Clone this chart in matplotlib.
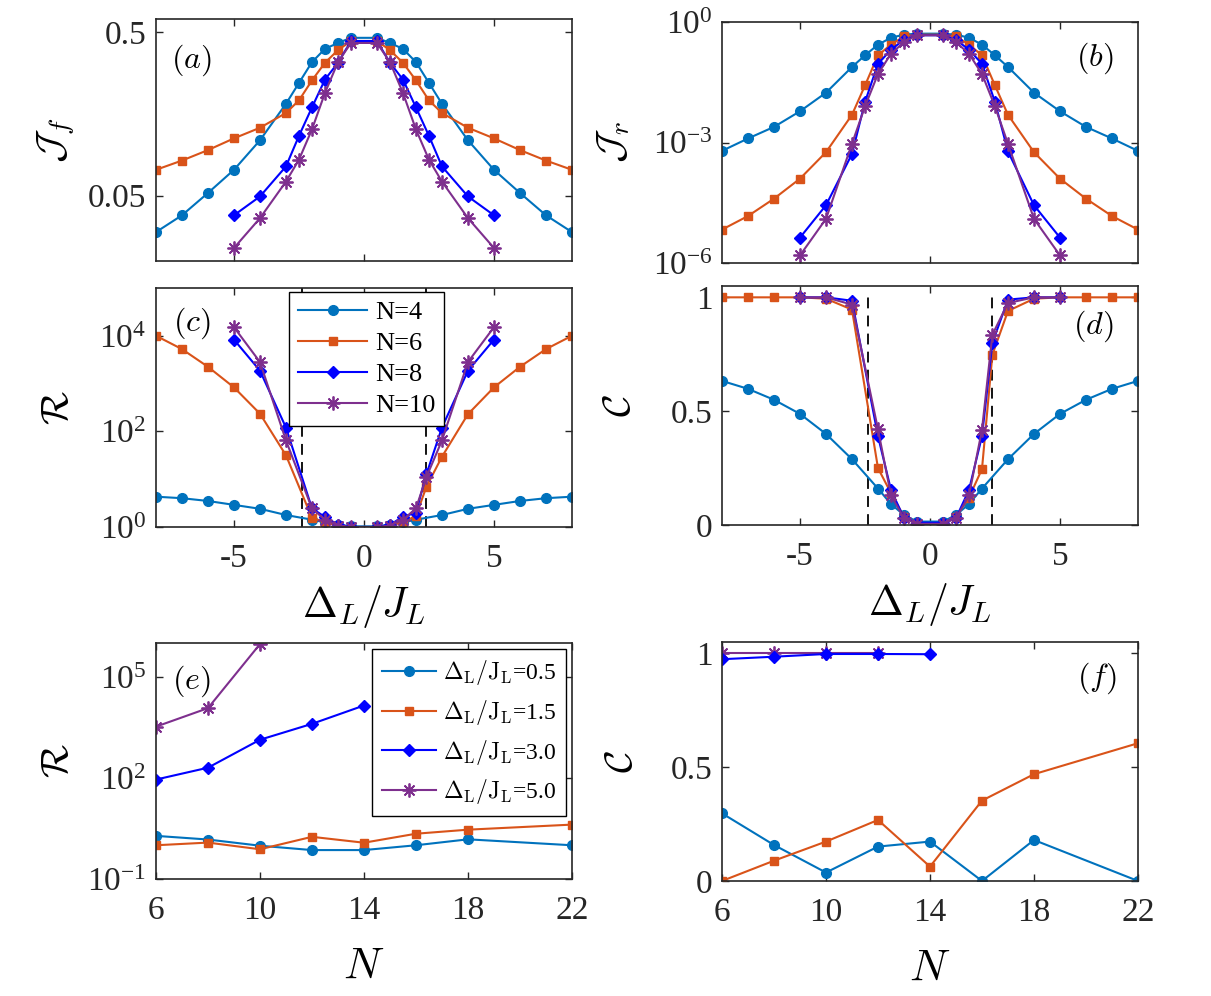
import matplotlib
matplotlib.use('Agg')
import matplotlib.pyplot as plt
from matplotlib.ticker import FuncFormatter, NullLocator, FixedLocator
import numpy as np

plt.rcParams['font.family'] = ['Liberation Serif', 'DejaVu Serif']
plt.rcParams['mathtext.fontset'] = 'cm'
plt.rcParams['axes.unicode_minus'] = False

# ---- data ----
# panels (a),(b)
x_wide = [-8, -7, -6, -5, -4, -3, -2.5, -2, -1.5, -1, -0.5, 0.5, 1, 1.5, 2, 2.5, 3, 4, 5, 6, 7, 8]
x_narrow = [-5, -4, -3, -2.5, -2, -1.5, -1, -0.5, 0.5, 1, 1.5, 2, 2.5, 3, 4, 5]

Jf_N4 = [0.030, 0.038, 0.052, 0.072, 0.109, 0.182, 0.244, 0.327, 0.394, 0.428, 0.46,
         0.46, 0.428, 0.394, 0.327, 0.244, 0.182, 0.109, 0.072, 0.052, 0.038, 0.030]
Jf_N6 = [0.072, 0.082, 0.095, 0.112, 0.130, 0.160, 0.191, 0.253, 0.324, 0.387, 0.44,
         0.44, 0.387, 0.324, 0.253, 0.191, 0.160, 0.130, 0.112, 0.095, 0.082, 0.072]
Jf_N8 = [0.038, 0.0495, 0.0755, 0.116, 0.173, 0.256, 0.324, 0.44,
         0.44, 0.324, 0.256, 0.173, 0.116, 0.0755, 0.0495, 0.038]
Jf_N10 = [0.024, 0.0365, 0.061, 0.083, 0.127, 0.212, 0.327, 0.428,
          0.428, 0.327, 0.212, 0.127, 0.083, 0.061, 0.0365, 0.024]

Jr_N4 = [6.2e-4, 1.26e-3, 2.45e-3, 6.0e-3, 0.0174, 0.076, 0.148, 0.273, 0.407, 0.484, 0.513,
         0.513, 0.484, 0.407, 0.273, 0.148, 0.076, 0.0174, 6.0e-3, 2.45e-3, 1.26e-3, 6.2e-4]
Jr_N6 = [6.8e-6, 1.48e-5, 4.0e-5, 1.26e-4, 5.75e-4, 4.9e-3, 0.0263, 0.148, 0.275, 0.436, 0.484,
         0.484, 0.436, 0.275, 0.148, 0.0263, 4.9e-3, 5.75e-4, 1.26e-4, 4.0e-5, 1.48e-5, 6.8e-6]
Jr_N8 = [4.3e-6, 2.75e-5, 5.2e-4, 0.0102, 0.091, 0.204, 0.363, 0.468,
         0.468, 0.363, 0.204, 0.091, 0.0102, 6.0e-4, 2.75e-5, 4.3e-6]
Jr_N10 = [1.55e-6, 1.26e-5, 9.3e-4, 7.9e-3, 0.051, 0.162, 0.316, 0.468,
          0.468, 0.316, 0.162, 0.051, 7.9e-3, 9.3e-4, 1.26e-5, 1.55e-6]

# panels (c),(d)
xc4 = [-8, -7, -6, -5, -4, -3, -2, -1.5, -1, -0.5, 0.5, 1, 1.5, 2, 3, 4, 5, 6, 7, 8]
xc6 = [-8, -7, -6, -5, -4, -3, -2, -1.5, -1, -0.5, 0.5, 1, 1.5, 2, 2.4, 3, 4, 5, 6, 7, 8]
xc8 = [-5, -4, -3, -2, -1.5, -1, -0.5, 0.5, 1, 1.5, 2, 2.4, 3, 4, 5]

R_N4 = [4.3, 4.0, 3.5, 2.9, 2.4, 1.78, 1.42, 1.25, 1.12, 1.03,
        1.03, 1.12, 1.25, 1.42, 1.78, 2.4, 2.9, 3.5, 4.0, 4.3]
R_N6 = [1e4, 5250, 2240, 832, 234, 31.6, 1.55, 1.26, 1.07, 1.0,
        1.0, 1.07, 1.26, 1.7, 6.9, 29.5, 229, 832, 2240, 5250, 1e4]
R_N8 = [8300, 1860, 120, 2.45, 1.62, 1.12, 1.0, 1.0, 1.12, 1.62, 2.0, 12.6, 120, 1860, 8300]
R_N10 = [15100, 2820, 64.6, 2.45, 1.41, 1.07, 1.0, 1.0, 1.07, 1.41, 2.45, 11.0, 64.6, 2820, 15100]

C_N4 = [0.633, 0.598, 0.55, 0.488, 0.40, 0.289, 0.16, 0.092, 0.044, 0.015,
        0.015, 0.044, 0.092, 0.16, 0.289, 0.40, 0.488, 0.55, 0.598, 0.633]
C_N6 = [1, 1, 1, 1, 0.994, 0.946, 0.25, 0.14, 0.037, 0.0,
        0.0, 0.037, 0.12, 0.246, 0.748, 0.94, 0.994, 1, 1, 1, 1]
C_N8 = [1, 1, 0.985, 0.39, 0.154, 0.03, 0.01, 0.01, 0.03, 0.154, 0.39, 0.8, 0.99, 1, 1]
C_N10 = [1, 1, 0.968, 0.42, 0.13, 0.03, 0.005, 0.005, 0.03, 0.13, 0.418, 0.836, 0.975, 1, 1]

delta_c = 2.4

# panels (e),(f)
N_all = [6, 8, 10, 12, 14, 16, 18, 22]
N_d3 = [6, 8, 10, 12, 14]
N_d5e = [6, 8, 10]
N_d5f = [6, 8, 10, 12]

Re_05 = [1.9, 1.48, 0.97, 0.72, 0.72, 1.0, 1.5, 1.0]
Re_15 = [1.0, 1.2, 0.76, 1.78, 1.19, 2.2, 2.9, 4.1]
Re_30 = [89, 200, 1350, 4000, 14000]
Re_50 = [3300, 11700, 9.3e5]

Cf_05 = [0.297, 0.158, 0.037, 0.151, 0.173, 0.0, 0.18, 0.0]
Cf_15 = [0.0, 0.089, 0.173, 0.268, 0.063, 0.353, 0.469, 0.605]
Cf_30 = [0.974, 0.985, 0.997, 0.997, 0.996]
Cf_50 = [1.0, 1.0, 1.0, 1.0]

# ---- styles ----
c1, c2, c3, c4 = '#0072BD', '#D95319', '#0000FF', '#7E2F8E'
st = [dict(color=c1, marker='o', ms=7),
      dict(color=c2, marker='s', ms=5.5),
      dict(color=c3, marker='D', ms=6),
      dict(color=c4, marker=(8, 2, 0), ms=10, mew=1.3)]
lw = 1.5
tick_fs = 24
lab_fs = 28

fig = plt.figure(figsize=(12.11, 9.96), dpi=100)
L1, L2, W = 0.1288, 0.5962, 0.3435
axa = fig.add_axes([L1, 0.7380, W, 0.2430])
axb = fig.add_axes([L2, 0.7359, W, 0.2420])
axc = fig.add_axes([L1, 0.4709, W, 0.2400])
axd = fig.add_axes([L2, 0.4729, W, 0.2400])
axe = fig.add_axes([L1, 0.1175, W, 0.2369])
axf = fig.add_axes([L2, 0.1155, W, 0.2400])


def logfmt(v, pos):
    return r'$\mathregular{10^{%d}}$' % int(round(np.log10(v)))


for ax in [axa, axb, axc, axd, axe, axf]:
    ax.tick_params(direction='in', top=True, right=True, labelsize=tick_fs,
                   length=5, width=1, colors='#262626')
    ax.tick_params(axis='x', pad=12)
    ax.tick_params(axis='y', pad=7)
    for s in ax.spines.values():
        s.set_linewidth(1.2)
        s.set_color('#262626')

# (a)
axa.plot(x_wide, Jf_N4, lw=lw, **st[0])
axa.plot(x_wide, Jf_N6, lw=lw, **st[1])
axa.plot(x_narrow, Jf_N8, lw=lw, **st[2])
axa.plot(x_narrow, Jf_N10, lw=lw, **st[3])
axa.set_yscale('log')
axa.set_ylim(0.02, 0.6)
axa.yaxis.set_major_locator(FixedLocator([0.05, 0.5]))
axa.yaxis.set_minor_locator(NullLocator())
axa.set_yticklabels(['0.05', '0.5'])

# (b)
axb.plot(x_wide, Jr_N4, lw=lw, **st[0])
axb.plot(x_wide, Jr_N6, lw=lw, **st[1])
axb.plot(x_narrow, Jr_N8, lw=lw, **st[2])
axb.plot(x_narrow, Jr_N10, lw=lw, **st[3])
axb.set_yscale('log')
axb.set_ylim(1e-6, 1)
axb.yaxis.set_major_locator(FixedLocator([1e-6, 1e-3, 1]))
axb.yaxis.set_minor_locator(NullLocator())
axb.yaxis.set_major_formatter(FuncFormatter(logfmt))

# (c)
axc.axvline(-delta_c, color='k', ls=(0, (6, 4)), lw=1.3)
axc.axvline(delta_c, color='k', ls=(0, (6, 4)), lw=1.3)
axc.plot(xc4, R_N4, lw=lw, label='N=4', **st[0])
axc.plot(xc6, R_N6, lw=lw, label='N=6', **st[1])
axc.plot(xc8, R_N8, lw=lw, label='N=8', **st[2])
axc.plot(xc8, R_N10, lw=lw, label='N=10', **st[3])
axc.set_yscale('log')
axc.set_ylim(1, 1e5)
axc.yaxis.set_major_locator(FixedLocator([1, 1e2, 1e4]))
axc.yaxis.set_minor_locator(NullLocator())
axc.yaxis.set_major_formatter(FuncFormatter(logfmt))
leg = axc.legend(loc='upper left', bbox_to_anchor=(0.32, 0.985), fontsize=19,
                 frameon=True, fancybox=False, edgecolor='k', framealpha=1,
                 handlelength=2.6, borderpad=0.35, labelspacing=0.28, handletextpad=0.3,
                 borderaxespad=0)
leg.get_frame().set_linewidth(1.0)

# (d)
axd.plot([-delta_c, -delta_c], [0, 1], color='k', ls=(0, (6, 4)), lw=1.3)
axd.plot([delta_c, delta_c], [0, 1], color='k', ls=(0, (6, 4)), lw=1.3)
axd.plot(xc4, C_N4, lw=lw, **st[0])
axd.plot(xc6, C_N6, lw=lw, **st[1])
axd.plot(xc8, C_N8, lw=lw, **st[2])
axd.plot(xc8, C_N10, lw=lw, **st[3])
axd.set_ylim(0, 1.05)
axd.set_yticks([0, 0.5, 1])
axd.set_yticklabels(['0', '0.5', '1'])

for ax in [axa, axb, axc, axd]:
    ax.set_xlim(-8, 8)
    ax.set_xticks([-5, 0, 5])
for ax in [axa, axb]:
    ax.set_xticklabels([])

# (e)
axe.plot(N_all, Re_05, lw=lw, label=r'$\Delta_\mathrm{L}/\mathrm{J}_\mathrm{L}$=0.5', **st[0])
axe.plot(N_all, Re_15, lw=lw, label=r'$\Delta_\mathrm{L}/\mathrm{J}_\mathrm{L}$=1.5', **st[1])
axe.plot(N_d3, Re_30, lw=lw, label=r'$\Delta_\mathrm{L}/\mathrm{J}_\mathrm{L}$=3.0', **st[2])
axe.plot(N_d5e, Re_50, lw=lw, label=r'$\Delta_\mathrm{L}/\mathrm{J}_\mathrm{L}$=5.0', **st[3])
axe.set_yscale('log')
axe.set_ylim(0.1, 1e6)
axe.yaxis.set_major_locator(FixedLocator([0.1, 1e2, 1e5]))
axe.yaxis.set_minor_locator(NullLocator())
axe.yaxis.set_major_formatter(FuncFormatter(logfmt))
leg2 = axe.legend(loc='upper left', bbox_to_anchor=(0.52, 0.975), fontsize=17,
                  frameon=True, fancybox=False, edgecolor='k', framealpha=1,
                  handlelength=2.3, borderpad=0.4, labelspacing=0.45, handletextpad=0.3,
                  borderaxespad=0)
leg2.get_frame().set_linewidth(1.0)

# (f)
axf.plot(N_all, Cf_05, lw=lw, **st[0])
axf.plot(N_all, Cf_15, lw=lw, **st[1])
axf.plot(N_d5f, Cf_50, lw=lw, **st[3])
axf.plot(N_d3, Cf_30, lw=lw, **st[2])
axf.set_ylim(0, 1.05)
axf.set_yticks([0, 0.5, 1])
axf.set_yticklabels(['0', '0.5', '1'])

for ax in [axe, axf]:
    ax.set_xlim(6, 22)
    ax.set_xticks([6, 10, 14, 18, 22])

# labels
ylabs = [(axa, r'$\mathcal{J}_f$', -0.19), (axb, r'$\mathcal{J}_r$', -0.215),
         (axc, r'$\mathcal{R}$', -0.19), (axd, r'$\mathcal{C}$', -0.2),
         (axe, r'$\mathcal{R}$', -0.19), (axf, r'$\mathcal{C}$', -0.195)]
for ax, t, xp in ylabs:
    ax.set_ylabel(t, fontsize=lab_fs)
    ax.yaxis.set_label_coords(xp, 0.5)

for ax in [axc, axd]:
    ax.set_xlabel(r'$\Delta_L/J_L$', fontsize=30)
    ax.xaxis.set_label_coords(0.5, -0.235)
for ax in [axe, axf]:
    ax.set_xlabel(r'$N$', fontsize=32)
    ax.xaxis.set_label_coords(0.5, -0.29)

tags = [(axa, '(a)', 0.085, 0.83), (axb, '(b)', 0.895, 0.85), (axc, '(c)', 0.085, 0.853),
        (axd, '(d)', 0.893, 0.83), (axe, '(e)', 0.085, 0.84), (axf, '(f)', 0.9, 0.85)]
for ax, t, xp, yp in tags:
    ax.text(xp, yp, r'$%s$' % t, transform=ax.transAxes, fontsize=23,
            ha='center', va='center')

fig.savefig('out.png', dpi=100)
